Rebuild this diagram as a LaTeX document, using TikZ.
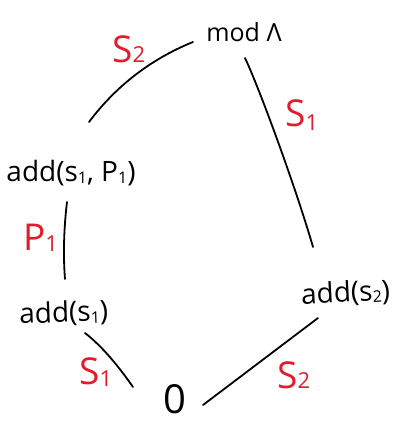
\documentclass[tikz,border=0pt]{standalone}
\usepackage{fontspec}
\setmainfont{Open Sans}
\definecolor{inkred}{RGB}{226,28,44}
% small lowered index: \idx{shift}{size}{text}
\newcommand\idx[3]{\raisebox{#1}{\fontsize{#2}{#2}\selectfont #3}}
\begin{document}
\begin{tikzpicture}[x=1pt,y=-1pt,
  term/.style={font=\fontsize{28}{32}\selectfont, inner sep=0pt, anchor=base},
  gen/.style={text=inkred, font=\fontsize{37}{40}\selectfont, inner sep=0pt, anchor=base west},
  stroke/.style={line width=1.8pt, line cap=round, line join=round}]
\useasboundingbox (0,0) rectangle (397,422);

% lattice elements
\node[term, font=\fontsize{25}{28}\selectfont] (mod) at (244,42) {mod Λ};
\node[term] (ap)  at (71,181)  {add(s\idx{-2pt}{16}{1}, P\idx{-2pt}{16}{1})};
\node[term, rotate=2] (as1) at (64,322)  {add(s\idx{-2pt}{16}{1})};
\node[term, rotate=3] (as2) at (346,302) {add(s\idx{-2pt}{16}{2})};
\node[inner sep=0pt, font=\fontsize{40}{44}\selectfont] (zero) at (175,399) {0};

% generator labels on the edges
\node[gen] (g1) at (112,63)  {S\idx{0pt}{22}{2}};
\node[gen] (g2) at (285,127) {S\idx{-4pt}{22}{1}};
\node[gen] (g3) at (23,250)  {P\idx{-1pt}{22}{1}};
\node[gen] (g4) at (79,384)  {S\idx{-2pt}{22}{1}};
\node[gen] (g5) at (277,388) {S\idx{0pt}{22}{2}};

% edges
\draw[stroke] ([shift={(-51,0)}]mod.base) .. controls +(-42,17) and +(27,-36) .. ([shift={(18,-59)}]ap.base);
\draw[stroke] ([shift={(1,16)}]mod.base) .. controls +(13,27) and +(-18,-62) .. ([shift={(-33,-55)}]as2.base);
\draw[stroke] ([shift={(-4,21)}]ap.base) .. controls +(-3,25) and +(-2,-25) .. ([shift={(1,-43)}]as1.base);
\draw[stroke] ([shift={(21,11)}]as1.base) .. controls +(18,14) and +(-14,-20) .. ([shift={(-42,-12)}]zero.center);
\draw[stroke] ([shift={(28,6)}]zero.center) -- ([shift={(-28,16)}]as2.base);
\end{tikzpicture}
\end{document}
